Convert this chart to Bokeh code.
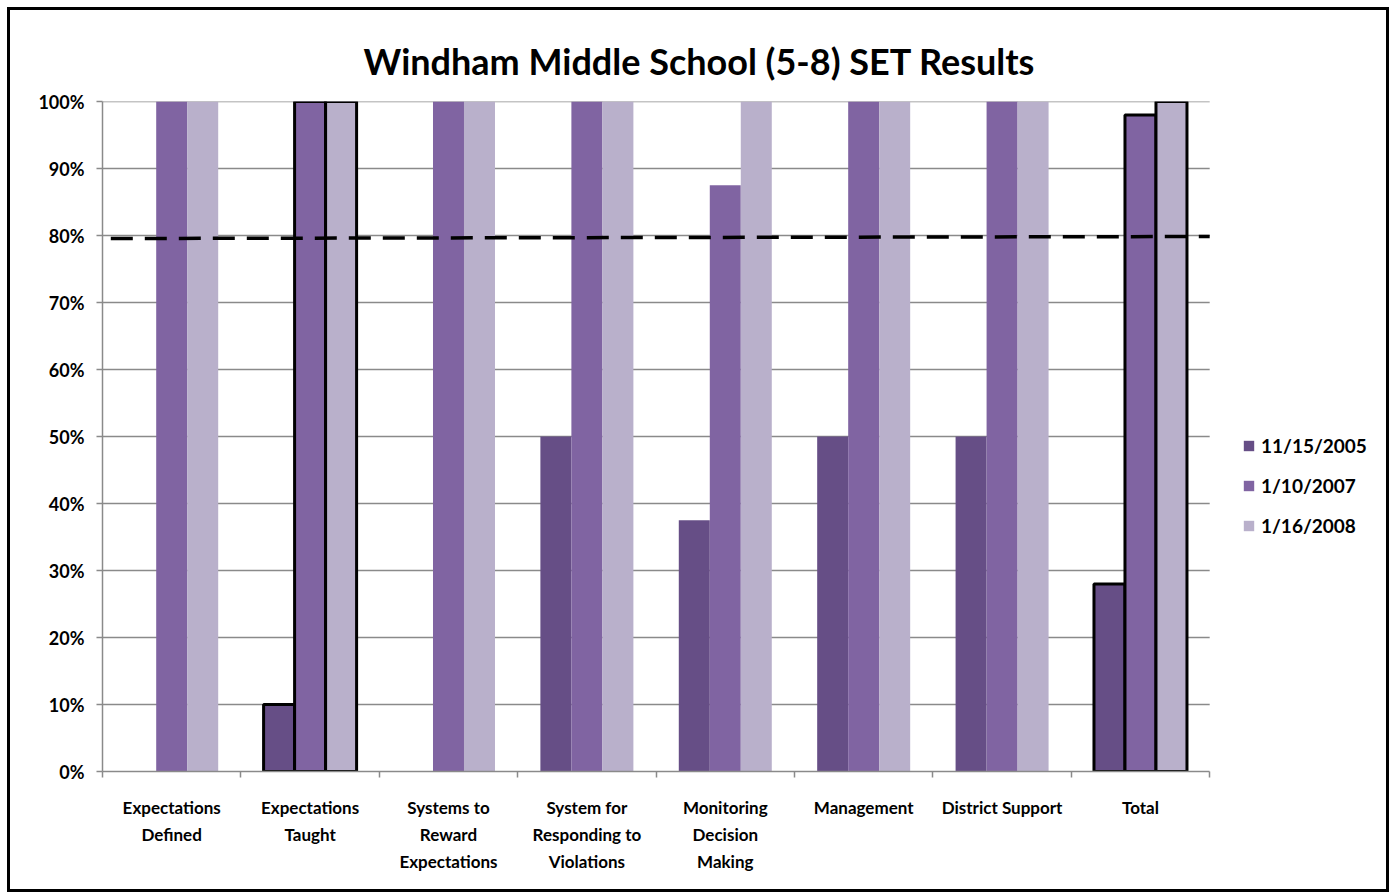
import numpy as np
from bokeh.plotting import figure
from bokeh.models import (Range1d, FixedTicker, ColumnDataSource, Legend, LegendItem, Title)
from bokeh.transform import dodge
from bokeh.embed import file_html
from bokeh.resources import INLINE

# ---- data ----
categories = ["Expectations\nDefined", "Expectations\nTaught", "Systems to\nReward\nExpectations",
              "System for\nResponding to\nViolations", "Monitoring\nDecision\nMaking",
              "Management", "District Support", "Total"]
series_names = ["11/15/2005", "1/10/2007", "1/16/2008"]
s2005 = [0, 10, 0, 50, 37.5, 50, 50, 28]
s2007 = [100, 100, 100, 100, 87.5, 100, 100, 98]
s2008 = [100, 100, 100, 100, 100, 100, 100, 100]
outlined = [0, 1, 0, 0, 0, 0, 0, 1]
goal_x = [0.06, 8.0]
goal_y = [79.55, 79.85]
y_ticks = [0, 10, 20, 30, 40, 50, 60, 70, 80, 90, 100]

colors = ["#664E86", "#8064A2", "#B9B0CB"]
FONT = "Lato"
GRID = "#8A8A8A"
ncat = len(categories)

p = figure(width=1382, height=885, output_backend="svg", toolbar_location=None,
           x_range=Range1d(0, 9.321), y_range=Range1d(0, 100),
           min_border_left=92, min_border_right=0, min_border_top=91, min_border_bottom=124)
p.styles = {"border": "3px solid black", "margin-left": "7px", "margin-top": "7px"}
p.outline_line_color = None
p.background_fill_color = "white"
p.border_fill_color = "white"

t = Title(text="Windham Middle School (5-8) SET Results", align="left", offset=261,
          text_font=FONT, text_font_size="36px", text_font_style="bold", text_color="black",
          standoff=38)
p.title = t

# horizontal gridlines limited to the category area
p.xgrid.visible = False
p.ygrid.visible = False
gy = [v for v in y_ticks if v > 0]
p.segment(x0=[0] * len(gy), x1=[ncat] * len(gy), y0=gy, y1=gy, line_color=GRID, line_width=1.5)

xc = np.arange(ncat) + 0.5
src = ColumnDataSource(dict(x=xc, a=s2005, b=s2007, c=s2008,
                            la=[1.0 if o else 0.0 for o in outlined]))

bw = 0.224
renderers = []
for key, off, col in zip(["a", "b", "c"], [-bw, 0.0, bw], colors):
    r = p.vbar(x=dodge("x", off, range=p.x_range), top=key, width=bw, source=src,
               fill_color=col, line_color="black", line_alpha="la", line_width=3)
    renderers.append(r)

p.line(goal_x, goal_y, line_color="black", line_width=3.5, line_dash="22 12")

# axes
p.yaxis.ticker = FixedTicker(ticks=y_ticks)
p.yaxis.major_label_overrides = {v: f"{v}%" for v in y_ticks}
p.yaxis.axis_line_color = GRID
p.yaxis.axis_line_width = 1.5
p.yaxis.major_tick_line_color = GRID
p.yaxis.major_tick_line_width = 1.5
p.yaxis.major_tick_out = 6
p.yaxis.major_tick_in = 0
p.yaxis.minor_tick_line_color = None
p.yaxis.major_label_standoff = 12
p.yaxis.major_label_text_font = FONT
p.yaxis.major_label_text_font_style = "bold"
p.yaxis.major_label_text_font_size = "18px"
p.yaxis.major_label_text_color = "black"

p.xaxis.bounds = (0, ncat)
p.xaxis.ticker = FixedTicker(ticks=list(xc), minor_ticks=list(range(ncat + 1)))
p.xaxis.major_label_overrides = {float(x): c for x, c in zip(xc, categories)}
p.xaxis.axis_line_color = GRID
p.xaxis.axis_line_width = 1.5
p.xaxis.major_tick_line_color = None
p.xaxis.major_tick_out = 0
p.xaxis.major_tick_in = 0
p.xaxis.minor_tick_line_color = GRID
p.xaxis.minor_tick_line_width = 1.5
p.xaxis.minor_tick_out = 6
p.xaxis.minor_tick_in = 0
p.xaxis.major_label_standoff = 19
p.xaxis.major_label_text_font = FONT
p.xaxis.major_label_text_font_style = "bold"
p.xaxis.major_label_text_font_size = "17px"
p.xaxis.major_label_text_color = "black"
p.xaxis.major_label_text_line_height = 1.3
p.xaxis.major_label_text_align = "center"

legend = Legend(items=[LegendItem(label=n, renderers=[r], index=0) for n, r in zip(series_names, renderers)],
                location=(1140, 234), orientation="vertical",
                glyph_width=13, glyph_height=13, label_height=20, spacing=17,
                label_standoff=6, padding=0, margin=0,
                border_line_color=None, background_fill_alpha=0,
                label_text_font=FONT, label_text_font_style="bold", label_text_font_size="19px",
                label_text_color="black")
p.add_layout(legend, "center")

open("out.html", "w").write(file_html(p, INLINE))
